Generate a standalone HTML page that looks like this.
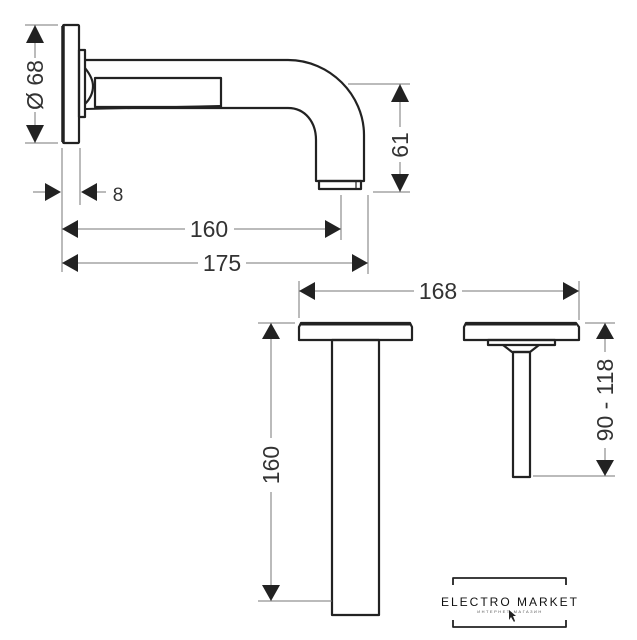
<!DOCTYPE html>
<html><head><meta charset="utf-8"><style>
html,body{margin:0;padding:0;background:#fff;}
svg{display:block;}
text{font-family:"Liberation Sans",sans-serif;fill:#333;}
</style></head><body>
<svg width="637" height="640" viewBox="0 0 637 640" xmlns="http://www.w3.org/2000/svg">
<g fill="none" stroke="#222" stroke-width="2.2" stroke-linejoin="round">
  <rect x="63" y="25" width="16" height="118" rx="1"/>
  <line x1="63" y1="26" x2="63" y2="142" stroke-width="3.5"/>
  <rect x="79" y="50" width="6" height="67"/>
  <path d="M85 68 Q93 78 93 86 Q93 96 85 104"/>
  <path d="M85 60 L288 60 C330 60 364 95 364 135 L364 181 L316 181 L316 140 C316 122 305 108 288 108 L95 108"/>
  <line x1="85" y1="109" x2="220" y2="106" stroke-width="2"/>
  <rect x="95" y="78" width="126" height="29"/>
  <rect x="319" y="181" width="42" height="8"/>
  <line x1="356" y1="181" x2="356" y2="189" stroke-width="1.2"/>
  <path d="M301 323 L410 323 L412 327 L412 340 L299 340 L299 327 Z"/>
  <line x1="301" y1="324" x2="410" y2="324" stroke-width="3"/>
  <rect x="332" y="340" width="47" height="275"/>
  <path d="M466 323 L576 323 L579 327 L579 340 L464 340 L464 327 Z"/>
  <line x1="466" y1="324" x2="576" y2="324" stroke-width="3"/>
  <rect x="488" y="340" width="67" height="5"/>
  <path d="M503 345 L512 352 L530 352 L539 345"/>
  <rect x="513" y="352" width="17" height="125"/>
  <path d="M453 585 L453 578 L566 578 L566 585" stroke-width="1.8"/>
  <path d="M453 620 L453 627 L566 627 L566 620" stroke-width="1.8"/>
</g>
<g stroke="#777" stroke-width="1" fill="none">
  <line x1="25" y1="25" x2="58" y2="25"/><line x1="25" y1="143" x2="58" y2="143"/>
  <line x1="35" y1="25" x2="35" y2="58"/><line x1="35" y1="112" x2="35" y2="143"/>
  <line x1="348" y1="84" x2="410" y2="84"/><line x1="373" y1="192" x2="410" y2="192"/>
  <line x1="400" y1="84" x2="400" y2="127"/><line x1="400" y1="162" x2="400" y2="192"/>
  <line x1="62" y1="148" x2="62" y2="272"/><line x1="80" y1="148" x2="80" y2="205"/>
  <line x1="33" y1="192" x2="60" y2="192"/><line x1="82" y1="192" x2="106" y2="192"/>
  <line x1="341" y1="195" x2="341" y2="240"/>
  <line x1="62" y1="229" x2="185" y2="229"/><line x1="234" y1="229" x2="341" y2="229"/>
  <line x1="368" y1="195" x2="368" y2="274"/>
  <line x1="62" y1="263" x2="198" y2="263"/><line x1="246" y1="263" x2="368" y2="263"/>
  <line x1="299" y1="281" x2="299" y2="318"/><line x1="579" y1="281" x2="579" y2="320"/>
  <line x1="299" y1="291" x2="414" y2="291"/><line x1="462" y1="291" x2="579" y2="291"/>
  <line x1="258" y1="323" x2="295" y2="323"/><line x1="258" y1="601" x2="332" y2="601"/>
  <line x1="271" y1="323" x2="271" y2="438"/><line x1="271" y1="492" x2="271" y2="601"/>
  <line x1="585" y1="323" x2="615" y2="323"/><line x1="533" y1="476" x2="615" y2="476"/>
  <line x1="605" y1="323" x2="605" y2="352"/><line x1="605" y1="448" x2="605" y2="476"/>
</g>
<g fill="#222">
  <polygon points="35,25 26,43 44,43"/><polygon points="35,143 26,125 44,125"/>
  <polygon points="400,84 391,102 409,102"/><polygon points="400,192 391,174 409,174"/>
  <polygon points="61,192 45,183 45,201"/><polygon points="81,192 97,183 97,201"/>
  <polygon points="62,229 78,220 78,238"/><polygon points="341,229 325,220 325,238"/>
  <polygon points="62,263 78,254 78,272"/><polygon points="368,263 352,254 352,272"/>
  <polygon points="299,291 315,282 315,300"/><polygon points="579,291 563,282 563,300"/>
  <polygon points="271,323 262,339 280,339"/><polygon points="271,601 262,585 280,585"/>
  <polygon points="605,323 596,339 614,339"/><polygon points="605,476 596,460 614,460"/>
  <polygon points="509,610 509,620 511,617 514,622 515,621 513,616 516,616"/>
</g>
<g font-size="23">
  <text x="209" y="237" text-anchor="middle">160</text>
  <text x="222" y="271" text-anchor="middle">175</text>
  <text x="438" y="299" text-anchor="middle">168</text>
  <text x="118" y="201" text-anchor="middle" font-size="19">8</text>
  <text transform="translate(43,85) rotate(-90)" text-anchor="middle">Ø 68</text>
  <text transform="translate(408,145) rotate(-90)" text-anchor="middle">61</text>
  <text transform="translate(279,465) rotate(-90)" text-anchor="middle">160</text>
  <text transform="translate(613,400) rotate(-90)" text-anchor="middle">90 - 118</text>
</g>
<text x="510" y="606" text-anchor="middle" font-size="12" letter-spacing="2" style="fill:#111">ELECTRO MARKET</text>
<text x="510" y="613" text-anchor="middle" font-size="4" letter-spacing="1.5" style="fill:#555">ИНТЕРНЕТ-МАГАЗИН</text>
</svg>
</body></html>
